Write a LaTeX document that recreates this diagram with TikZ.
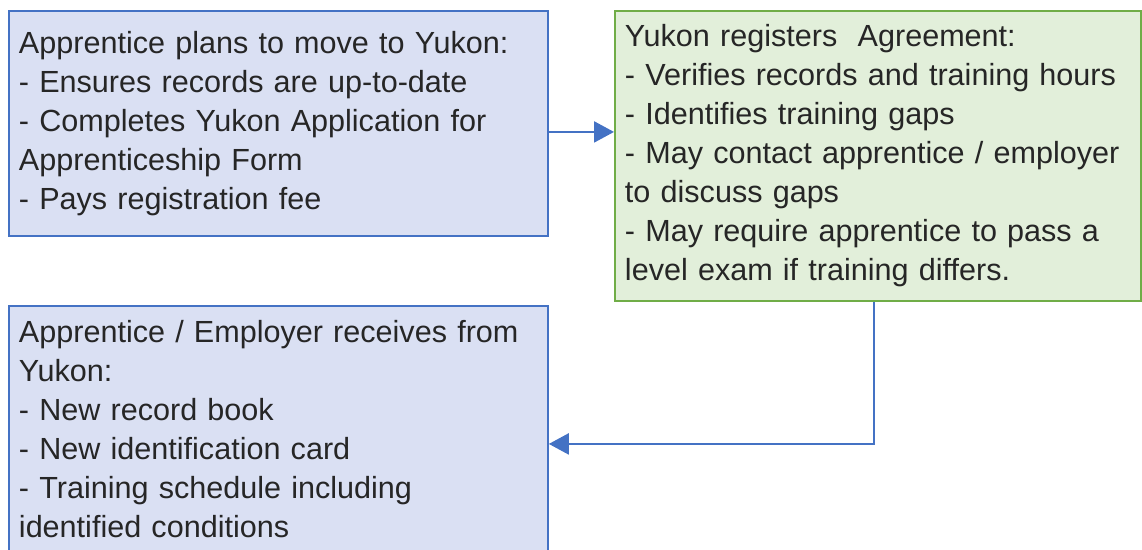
\documentclass[tikz,border=0pt]{standalone}
\usepackage{fontspec}
\setmainfont{Liberation Sans}
\usetikzlibrary{arrows.meta,positioning}
\definecolor{boxblue}{HTML}{DAE0F3}
\definecolor{lineblue}{HTML}{4472C4}
\definecolor{boxgreen}{HTML}{E2EFDA}
\definecolor{linegreen}{HTML}{70AD47}

\begin{document}
\begin{tikzpicture}[x=0.02cm,y=-0.02cm,
  every node/.style={font=\fontsize{17.4pt}{22.2pt}\selectfont,text=black!85},
  bluebox/.style={draw=lineblue,fill=boxblue,line width=1.1pt,anchor=north west,align=left,inner xsep=0.2cm,inner ysep=0pt},
  greenbox/.style={draw=linegreen,fill=boxgreen,line width=1.1pt,anchor=north west,align=left,inner xsep=0.2cm,inner ysep=0pt},
  flow/.style={draw=lineblue,line width=1.3pt,-{Triangle[length=0.4cm,width=0.42cm]}}]
\useasboundingbox (0,0) rectangle (1142,550);
\node[bluebox,minimum width=10.78cm,minimum height=4.5cm,text width=10.38cm] (plan) at (8,10)
  {Apprentice plans to move to Yukon:\\- Ensures records are up-to-date\\- Completes Yukon Application for\\Apprenticeship Form\\- Pays registration fee};
\node[greenbox,minimum width=10.52cm,minimum height=5.8cm,text width=10.12cm] (register) at (614,10)
  {Yukon registers\ \ Agreement:\\- Verifies records and training hours\\- Identifies training gaps\\- May contact apprentice / employer\\to discuss gaps\\- May require apprentice to pass a\\level exam if training differs.};
\node[bluebox,minimum width=10.78cm,minimum height=4.94cm,text width=10.38cm] (receive) at (8,305)
  {Apprentice / Employer receives from\\Yukon:\\- New record book\\- New identification card\\- Training schedule including\\identified conditions};
\coordinate (out1) at ([yshift=-0.17cm]plan.east);
\coordinate (in3) at ([yshift=-0.29cm]receive.east);
\coordinate (out2) at ([xshift=-0.08cm]register.south);
\draw[flow] (out1) -- (out1 -| register.west);
\draw[flow] (out2) |- (in3);
\end{tikzpicture}
\end{document}
